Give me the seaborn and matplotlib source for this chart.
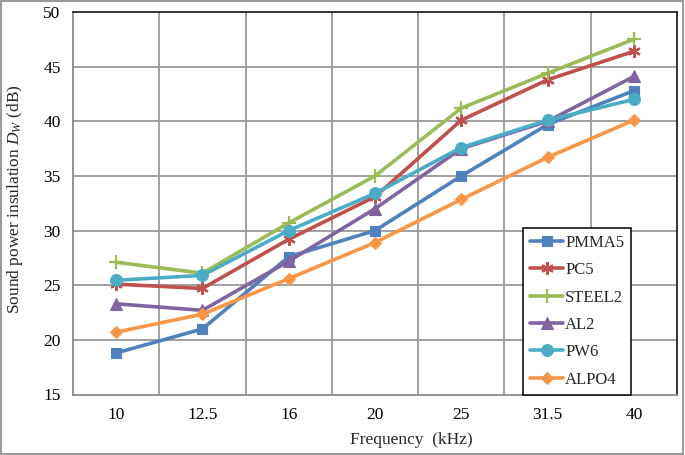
import matplotlib
matplotlib.use("Agg")
import matplotlib.pyplot as plt
import seaborn as sns
import pandas as pd
from matplotlib.patches import Rectangle

frequencies = ["10", "12.5", "16", "20", "25", "31.5", "40"]
series_names = ["PMMA5", "PC5", "STEEL2", "AL2", "PW6", "ALPO4"]
pmma5 = [18.8, 21.0, 27.6, 30.0, 35.0, 39.7, 42.8]
pc5 = [25.1, 24.7, 29.2, 33.1, 40.1, 43.8, 46.4]
steel2 = [27.1, 26.1, 30.7, 35.0, 41.2, 44.4, 47.5]
al2 = [23.3, 22.7, 27.2, 32.0, 37.5, 40.0, 44.1]
pw6 = [25.45, 25.9, 30.0, 33.4, 37.6, 40.1, 42.0]
alpo4 = [20.7, 22.35, 25.6, 28.9, 32.85, 36.7, 40.1]
y_ticks = [15, 20, 25, 30, 35, 40, 45, 50]

values = [pmma5, pc5, steel2, al2, pw6, alpo4]
rows = []
for name, vals in zip(series_names, values):
    for f, v in zip(frequencies, vals):
        rows.append({"freq": f, "val": v, "series": name})
df = pd.DataFrame(rows)

colors = {"PMMA5": "#4F81BD", "PC5": "#C0504D", "STEEL2": "#9BBB59",
          "AL2": "#8064A2", "PW6": "#4BACC6", "ALPO4": "#F79646"}
markers = {"PMMA5": "s", "PC5": (6, 2, 0), "STEEL2": "+",
           "AL2": "^", "PW6": "o", "ALPO4": "D"}
msizes = {"PMMA5": 7.5, "PC5": 9, "STEEL2": 10, "AL2": 8, "PW6": 8.5, "ALPO4": 6.5}

sns.set_theme(style="white")
plt.rcParams["font.family"] = ["Liberation Serif", "DejaVu Serif"]
plt.rcParams["mathtext.fontset"] = "custom"
plt.rcParams["mathtext.it"] = "Liberation Serif:italic"
plt.rcParams["mathtext.rm"] = "Liberation Serif"

fig = plt.figure(figsize=(6.85, 4.55), dpi=100)
ax = fig.add_axes([73 / 685, 1 - 394.5 / 455, (677 - 73) / 685, (394.5 - 12) / 455])

sns.lineplot(data=df, x="freq", y="val", hue="series",
             hue_order=series_names, palette=colors, linewidth=2.6,
             legend=False, ax=ax, sort=False)

for line, name in zip(ax.lines, series_names):
    line.set_label(name)
    line.set_marker(markers[name])
    line.set_markeredgecolor(colors[name])
    line.set_markerfacecolor(colors[name])
    line.set_markersize(msizes[name])
    line.set_markeredgewidth(1.6 if name in ("PC5", "STEEL2") else 0.8)
    line.set_zorder(3)

ax.set_xlim(-0.5, len(frequencies) - 0.5)
ax.set_ylim(15, 50)
ax.set_yticks(y_ticks)
ax.set_xticks(range(len(frequencies)))
ax.set_xticklabels(frequencies)
ax.set_xticks([i - 0.5 for i in range(len(frequencies) + 1)], minor=True)

ax.grid(False)
for y in y_ticks[1:-1]:
    ax.axhline(y, color="#9a9a9a", lw=1.3, zorder=1)
for i in range(1, len(frequencies)):
    ax.axvline(i - 0.5, color="#9a9a9a", lw=1.3, zorder=1)

ax.tick_params(axis="x", which="major", length=0, pad=9, labelsize=12.5, colors="black")
ax.tick_params(axis="x", which="minor", length=4, width=1.2, color="#8a8a8a")
ax.tick_params(axis="y", which="major", length=4, width=1.2, color="#8a8a8a",
               pad=5, labelsize=12.5, labelcolor="black")

for s in ("left", "bottom"):
    ax.spines[s].set_color("#8a8a8a")
    ax.spines[s].set_linewidth(1.3)
for s in ("top", "right"):
    ax.spines[s].set_color("black")
    ax.spines[s].set_linewidth(1.1)

ax.set_xlabel("Frequency  (kHz)", fontsize=12.5)
ax.xaxis.set_label_coords((411 - 73) / 604, -0.098)
ax.set_ylabel("Sound power insulation $D_W$ (dB)", fontsize=12.5)
ax.yaxis.set_label_coords(-0.08, 0.51)

leg = ax.legend(handles=ax.lines[:6], loc="lower left",
                bbox_to_anchor=(0.745, 0.0), borderaxespad=0,
                fontsize=12, handlelength=2.0, handletextpad=0.12,
                labelspacing=0.68, borderpad=0.42, fancybox=False,
                framealpha=1, edgecolor="black")
leg.get_frame().set_linewidth(1.1)

fig.patches.append(Rectangle((0.002, 0.003), 0.995, 0.994, transform=fig.transFigure,
                             fill=False, edgecolor="#9a9a9a", lw=1.5))

fig.savefig("out.png", dpi=100)
